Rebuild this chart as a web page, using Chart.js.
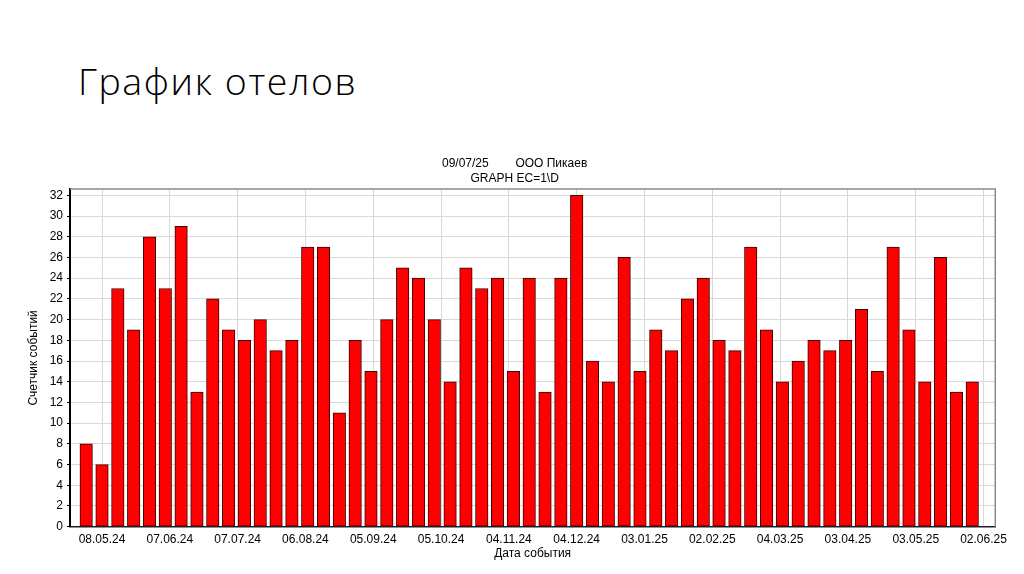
<!DOCTYPE html>
<html>
<head>
<meta charset="utf-8">
<script src="https://cdn.jsdelivr.net/npm/chart.js@4.4.1/dist/chart.umd.min.js"></script>
<style>
  html, body { margin: 0; padding: 0; background: #fff; width: 1024px; height: 574px; overflow: hidden; }
  #slideTitle {
    position: absolute; left: 78px; top: 62px;
    font-family: "Open Sans", Lato, sans-serif; font-weight: 300;
    font-size: 37.5px; letter-spacing: 1.6px; line-height: 1; color: #000; white-space: nowrap;
  }
  #wrap { position: absolute; left: 0; top: 0; width: 1024px; height: 574px; }
</style>
</head>
<body>
<div id="slideTitle">График отелов</div>
<div id="wrap"><canvas id="chart"></canvas></div>
<script>
// weekly event counts
const counts = [8, 6, 23, 19, 28, 23, 29, 13, 22, 19, 18, 20, 17, 18, 27, 27, 11, 18, 15, 20,
  25, 24, 20, 14, 25, 23, 24, 15, 24, 13, 24, 32, 16, 14, 26, 15, 19, 17, 22, 24,
  18, 17, 27, 19, 14, 16, 18, 17, 18, 21, 15, 27, 19, 14, 26, 13, 14]

// bar positions in days after 08.05.24 (one bar per week)
const weekDays = counts.map((_, i) => -7 + 7 * i)

// date ticks on the x axis (every 30 days)
const tickDays = [0, 30, 60, 90, 120, 150, 180, 210, 240, 270, 300, 330, 360, 390]
const tickLabels = ["08.05.24", "07.06.24", "07.07.24", "06.08.24", "05.09.24", "05.10.24", "04.11.24",
  "04.12.24", "03.01.25", "02.02.25", "04.03.25", "03.04.25", "03.05.25", "02.06.25"]

const headerLines = ["09/07/25        ООО Пикаев", "GRAPH EC=1\\D"]

Chart.defaults.font.family = "'Liberation Sans', Arial, sans-serif"
Chart.defaults.font.size = 12
Chart.defaults.color = "#000"

// gray frame on the top and right of the plot
const frame = {
  id: "frame",
  afterDraw(chart) {
    const { ctx, chartArea: a } = chart
    ctx.save()
    ctx.strokeStyle = "#8c8c8c"
    ctx.lineWidth = 1.5
    ctx.beginPath()
    ctx.moveTo(a.left, a.top)
    ctx.lineTo(a.right, a.top)
    ctx.lineTo(a.right, a.bottom)
    ctx.stroke()
    ctx.restore()
  }
}

new Chart(document.getElementById("chart"), {
  type: "bar",
  data: {
    datasets: [{
      label: "Счетчик событий",
      data: counts.map((v, i) => ({ x: weekDays[i], y: v })),
      backgroundColor: "#ff0000",
      borderColor: "#3c0000",
      borderWidth: 1,
      borderSkipped: false,
      barThickness: 12.5
    }]
  },
  options: {
    responsive: true,
    maintainAspectRatio: false,
    animation: false,
    layout: { padding: { left: 34, right: 28.7, top: 0, bottom: 13.3 } },
    plugins: {
      legend: { display: false },
      tooltip: { enabled: false },
      title: {
        display: true,
        text: headerLines,
        font: { size: 12, weight: "normal", lineHeight: 1.2 },
        color: "#000",
        padding: { top: 156.6, bottom: 3.6 }
      }
    },
    scales: {
      x: {
        type: "linear",
        offset: false,
        min: -14.16,
        max: 395.2,
        afterFit: (scale) => { scale.height = 34 },
        afterBuildTicks: (scale) => { scale.ticks = tickDays.map(v => ({ value: v })) },
        grid: { color: "#d9d9d9", lineWidth: 1, drawTicks: false, offset: false },
        border: { color: "#1e1e2a", width: 1.5 },
        ticks: {
          padding: 5.5,
          maxRotation: 0,
          autoSkip: false,
          callback: (v) => tickLabels[tickDays.indexOf(v)] || ""
        },
        title: { display: true, text: "Дата события", font: { size: 12 }, padding: { top: 0, bottom: 0 } }
      },
      y: {
        min: 0,
        max: 32.61,
        afterFit: (scale) => { scale.width = 36 },
        grid: { color: "#d9d9d9", lineWidth: 1, tickLength: 3, tickColor: "#000" },
        border: { color: "#000", width: 2 },
        ticks: { stepSize: 2, includeBounds: false, padding: 4 },
        title: { display: true, text: "Счетчик событий", font: { size: 12 }, padding: { top: -8, bottom: 0 } }
      }
    }
  },
  plugins: [frame]
})
</script>
</body>
</html>
